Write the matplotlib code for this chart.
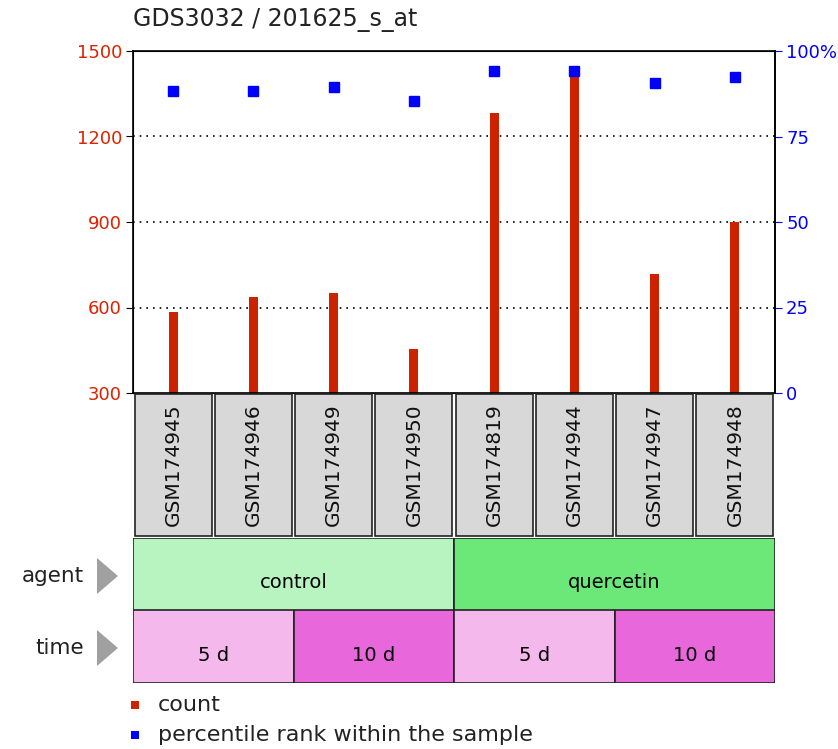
import matplotlib
matplotlib.use("Agg")
import matplotlib.pyplot as plt
from matplotlib.patches import Rectangle, Polygon

plt.rcParams['font.family'] = ['DejaVu Sans']

title = "GDS3032 / 201625_s_at"
samples = ["GSM174945", "GSM174946", "GSM174949", "GSM174950",
           "GSM174819", "GSM174944", "GSM174947", "GSM174948"]
counts = [585, 636, 650, 454, 1281, 1430, 716, 899]
percentiles = [88.3, 88.3, 89.5, 85.4, 94.2, 94.2, 90.6, 92.5]
left_ticks = [300, 600, 900, 1200, 1500]
right_ticks = [0, 25, 50, 75, 100]
right_labels = ["0", "25", "50", "75", "100%"]
agent_groups = [("control", 0, 4), ("quercetin", 4, 8)]
agent_colors = ["#b8f4c0", "#6ce878"]
time_groups = [("5 d", 0, 2), ("10 d", 2, 4), ("5 d", 4, 6), ("10 d", 6, 8)]
time_colors = ["#f4b8ec", "#e868dc", "#f4b8ec", "#e868dc"]

W, H = 838, 749
fig = plt.figure(figsize=(W / 100, H / 100), dpi=100)

def ax_px(x0, y0, x1, y1):
    return fig.add_axes([x0 / W, 1 - y1 / H, (x1 - x0) / W, (y1 - y0) / H])

L, R = 133, 775
ax = ax_px(L, 51, R, 393)
n = len(samples)
xs = list(range(n))
ax.bar(xs, [c - 300 for c in counts], bottom=300, width=0.11, color="#cc2200", zorder=2)
ax.set_xlim(-0.5, n - 0.5)
ax.set_ylim(300, 1500)
ax.set_yticks(left_ticks)
ax.set_yticklabels([str(t) for t in left_ticks])
ax.tick_params(axis='y', colors='black', labelcolor='#dd2200', labelsize=13, length=5,
               direction='out', pad=3)
ax.set_xticks(xs)
ax.tick_params(axis='x', length=4, direction='in', labelbottom=False, color='black')
for y in [600, 900, 1200]:
    ax.axhline(y, color='black', linestyle=(0, (1, 3)), linewidth=1.2, zorder=1)
for s in ax.spines.values():
    s.set_linewidth(1.2)

ax2 = ax.twinx()
ax2.set_ylim(0, 100)
ax2.plot(xs, percentiles, linestyle='none', marker='s', markersize=7.5, color='#0000ff', zorder=3)
ax2.set_yticks(right_ticks)
ax2.set_yticklabels(right_labels)
ax2.tick_params(axis='y', colors='#0000ff', labelcolor='#0000ff', labelsize=13, length=5,
                direction='out', pad=3)
ax2.spines['right'].set_linewidth(1.2)

fig.text(L / W, 1 - 20 / H, title, fontsize=17, ha='left', va='center', color='#222222')

# sample label boxes
axs = ax_px(L, 393, R, 537)
axs.set_xlim(-0.5, n - 0.5)
axs.set_ylim(0, 1)
axs.axis('off')
for i, s in enumerate(samples):
    axs.add_patch(Rectangle((i - 0.5 + 0.02, 0.01), 0.96, 0.98, facecolor='#d8d8d8',
                            edgecolor='#222222', linewidth=1.2))
    axs.text(i, 0.5, s, rotation=90, ha='center', va='center', fontsize=14.5, color='#111111')

# agent row
axa = ax_px(L, 538, R, 610)
axa.set_xlim(-0.5, n - 0.5)
axa.set_ylim(0, 1)
axa.axis('off')
for (lab, a, b), c in zip(agent_groups, agent_colors):
    axa.add_patch(Rectangle((a - 0.5, 0), b - a, 1, facecolor=c, edgecolor='#222222', linewidth=1.2))
    axa.text((a + b) / 2 - 0.5, 0.38, lab, ha='center', va='center', fontsize=14)

# time row
axt = ax_px(L, 610, R, 683)
axt.set_xlim(-0.5, n - 0.5)
axt.set_ylim(0, 1)
axt.axis('off')
for (lab, a, b), c in zip(time_groups, time_colors):
    axt.add_patch(Rectangle((a - 0.5, 0), b - a, 1, facecolor=c, edgecolor='#222222', linewidth=1.2))
    axt.text((a + b) / 2 - 0.5, 0.38, lab, ha='center', va='center', fontsize=14)

# row labels with arrows
for lab, yc in [("agent", 576), ("time", 648)]:
    fig.text(84 / W, 1 - yc / H, lab, ha='right', va='center', fontsize=15.5, color='#222222')
    tri = Polygon([(97 / W, 1 - (yc - 18) / H), (97 / W, 1 - (yc + 18) / H), (118 / W, 1 - yc / H)],
                  closed=True, transform=fig.transFigure, facecolor='#a0a0a0', edgecolor='none')
    fig.patches.append(tri)

# legend
for lab, col, yc in [("count", "#cc2200", 705), ("percentile rank within the sample", "#0000ff", 735)]:
    fig.patches.append(Rectangle((131 / W, 1 - (yc + 4) / H), 8 / W, 8 / H, transform=fig.transFigure,
                                 facecolor=col, edgecolor='none'))
    fig.text(158 / W, 1 - yc / H, lab, ha='left', va='center', fontsize=16, color='#222222')

fig.savefig("out.png", dpi=100)
